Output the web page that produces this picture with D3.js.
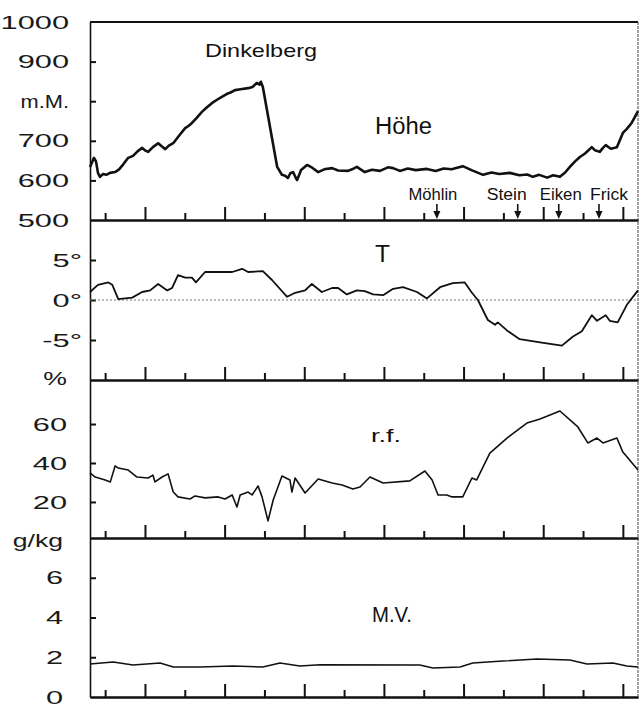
<!DOCTYPE html>
<html>
<head>
<meta charset="utf-8">
<script src="https://cdn.jsdelivr.net/npm/d3@7"></script>
<style>
  body { margin: 0; background: #fff; }
  svg { display: block; font-family: "Liberation Sans", Arial, sans-serif; }
</style>
</head>
<body>
<svg width="641" height="707"></svg>
<script>
// profile position (tick units along the route) and measured values
const hoehe = [[-0.38,634],[-0.33,645],[-0.28,657],[-0.23,648],[-0.18,619],[-0.13,609],[-0.05,616],[0.03,614],[0.12,619],[0.25,621],[0.35,628],[0.45,640],[0.58,657],[0.7,662],[0.82,674],[0.93,682],[1.0,676],[1.08,672],[1.2,684],[1.33,694],[1.42,686],[1.51,679],[1.6,688],[1.71,694],[1.85,712],[2.01,732],[2.1,738],[2.18,745],[2.3,758],[2.43,773],[2.55,784],[2.68,795],[2.8,803],[2.93,811],[3.05,818],[3.15,822],[3.26,828],[3.4,830],[3.59,833],[3.7,836],[3.81,846],[3.88,842],[3.91,849],[3.96,836],[4.32,634],[4.44,614],[4.52,612],[4.59,606],[4.65,618],[4.72,621],[4.78,608],[4.82,601],[4.92,626],[5.07,639],[5.2,632],[5.35,621],[5.5,628],[5.7,631],[5.85,625],[6.1,624],[6.2,628],[6.32,634],[6.52,621],[6.7,627],[6.9,624],[7.1,633],[7.23,631],[7.4,624],[7.6,630],[7.8,626],[8.08,629],[8.3,624],[8.5,630],[8.7,628],[8.98,636],[9.2,626],[9.49,614],[9.7,620],[9.9,616],[10.16,619],[10.4,613],[10.6,615],[10.74,609],[10.9,614],[11.1,607],[11.25,613],[11.42,609],[11.55,620],[11.67,634],[11.8,648],[11.92,659],[12.05,668],[12.22,684],[12.3,676],[12.42,672],[12.5,682],[12.57,689],[12.7,680],[12.85,684],[13.0,720],[13.1,730],[13.22,745],[13.3,760],[13.38,775]];

const temp = [[-0.38,1.0],[-0.18,1.9],[0.08,2.2],[0.18,1.9],[0.33,0.1],[0.68,0.3],[0.93,1.0],[1.13,1.2],[1.33,2.0],[1.56,1.2],[1.68,1.5],[1.83,3.1],[2.01,2.8],[2.18,2.8],[2.28,2.2],[2.51,3.5],[2.84,3.5],[3.19,3.5],[3.44,3.9],[3.59,3.5],[3.96,3.6],[4.19,2.5],[4.57,0.4],[4.77,0.9],[5.02,1.2],[5.19,2.0],[5.44,1.0],[5.7,1.5],[5.85,1.5],[6.07,0.7],[6.32,1.2],[6.52,1.1],[6.73,0.7],[6.98,0.6],[7.23,1.4],[7.48,1.6],[7.83,1.0],[8.08,0.2],[8.41,1.6],[8.73,2.1],[9.03,2.2],[9.21,0.9],[9.36,0.0],[9.61,-2.5],[9.79,-3.1],[9.86,-2.8],[10.09,-3.8],[10.41,-4.9],[10.92,-5.3],[11.47,-5.7],[11.74,-4.6],[11.97,-3.9],[12.22,-1.9],[12.35,-2.6],[12.57,-1.9],[12.67,-2.6],[12.87,-2.8],[13.1,-0.6],[13.38,1.2]];

const rf = [[-0.38,34.9],[-0.25,32.8],[0.0,31.3],[0.13,30.3],[0.25,38.5],[0.33,37.4],[0.58,36.4],[0.8,32.8],[1.08,32.3],[1.2,33.8],[1.25,30.3],[1.43,32.8],[1.58,34.4],[1.71,25.1],[1.83,22.6],[2.13,21.5],[2.26,23.1],[2.51,22.1],[2.84,22.6],[3.01,21.5],[3.19,23.6],[3.31,17.4],[3.39,23.6],[3.59,25.1],[3.69,23.6],[3.84,28.2],[3.94,22.6],[4.09,10.3],[4.22,21.0],[4.44,33.3],[4.64,31.3],[4.69,25.1],[4.77,32.3],[5.02,24.6],[5.35,31.8],[5.7,29.7],[5.95,28.7],[6.22,26.7],[6.4,27.7],[6.65,32.8],[6.98,29.7],[7.65,30.8],[8.03,35.9],[8.21,31.3],[8.36,23.6],[8.58,23.6],[8.71,22.6],[8.98,22.6],[9.21,32.3],[9.33,31.3],[9.66,45.1],[10.09,52.8],[10.59,60.5],[10.92,62.6],[11.42,66.7],[11.87,58.5],[12.12,50.3],[12.35,52.8],[12.5,50.3],[12.85,52.8],[13.0,45.6],[13.38,36.4]];

const mv = [[-0.38,1.66],[0.2,1.76],[0.7,1.61],[1.38,1.71],[1.71,1.51],[2.38,1.51],[3.21,1.56],[3.96,1.51],[4.39,1.71],[4.89,1.56],[5.4,1.62],[7.9,1.61],[8.23,1.46],[8.91,1.51],[9.23,1.71],[9.99,1.81],[10.84,1.91],[11.67,1.86],[12.1,1.66],[12.75,1.71],[13.1,1.56],[13.38,1.51]];

const routeTicks = [0,1,2,3,4,5,6,7,8,9,10,11,12,13];

const places = ["Möhlin", "Stein", "Eiken", "Frick"];
const placeKm = [8.33, 10.36, 11.39, 12.40];

const hoeheTicks = [900, 800, 700, 600];
const hoeheLabelVals = [1000, 900, 800, 700, 600, 500];
const hoeheLabels = ["1000", "900", "m.M.", "700", "600", "500"];
const tempTicks = [5, 0, -5];
const tempLabelVals = [5, 0, -5];
const tempLabels = ["5°", "0°", "-5°"];
const rfTicks = [60, 40, 20];
const rfLabelVals = [83.5, 60, 40, 20];
const rfLabels = ["%", "60", "40", "20"];
const mvTicks = [6, 4, 2];
const mvLabelVals = [7.9, 6, 4, 2, 0];
const mvLabels = ["g/kg", "6", "4", "2", "0"];

const svg = d3.select("svg");
const left = 90, right = 638;
const ink = "#111";

const x = d3.scaleLinear().domain([-0.38, 13.38]).range([left, right]);

const panels = [
  { data: hoehe, domain: [500, 1000], top: 22, bottom: 220, ticks: hoeheTicks, lv: hoeheLabelVals, lt: hoeheLabels, labelEnd: 69, sw: 2.6,
    title: "Höhe", tx: 375, ty: 134, tsize: 23, tlen: 57 },
  { data: temp, domain: [-10, 10], top: 220, bottom: 380, ticks: tempTicks, lv: tempLabelVals, lt: tempLabels, labelEnd: 82, sw: 1.8,
    title: "T", tx: 375, ty: 262, tsize: 24, tlen: 15 },
  { data: rf, domain: [1.5, 82.6], top: 380, bottom: 538, ticks: rfTicks, lv: rfLabelVals, lt: rfLabels, labelEnd: 67, sw: 1.6,
    title: "r.f.", tx: 371, ty: 442, tsize: 19, tlen: 30 },
  { data: mv, domain: [0, 8], top: 538, bottom: 697, ticks: mvTicks, lv: mvLabelVals, lt: mvLabels, labelEnd: 63, sw: 1.4,
    title: "M.V.", tx: 372, ty: 622, tsize: 22, tlen: 40 }
];

panels.forEach((p) => {
  const y = d3.scaleLinear().domain(p.domain).range([p.bottom, p.top]);
  p.y = y;

  // route ticks on bottom edge, pointing up, alternating long / short
  const shortAxis = d3.axisBottom(x).tickValues(routeTicks.filter((d) => d % 2 === 0))
    .tickSizeInner(-7).tickSizeOuter(0).tickFormat("");
  const longAxis = d3.axisBottom(x).tickValues(routeTicks.filter((d) => d % 2 === 1))
    .tickSizeInner(-13).tickSizeOuter(0).tickFormat("");
  [shortAxis, longAxis].forEach((ax) => {
    const g = svg.append("g").attr("transform", `translate(0,${p.bottom})`).call(ax);
    g.select(".domain").attr("stroke", ink).attr("stroke-width", 2);
    g.selectAll(".tick line").attr("stroke", ink).attr("stroke-width", 2);
  });

  // left axis: small inward ticks
  const yAxis = d3.axisLeft(y).tickValues(p.ticks).tickSizeInner(-6).tickSizeOuter(0).tickFormat("");
  const ga = svg.append("g").attr("transform", `translate(${left},0)`).call(yAxis);
  ga.select(".domain").attr("stroke", ink).attr("stroke-width", 1.6);
  ga.selectAll(".tick line").attr("stroke", ink).attr("stroke-width", 2);

  // axis labels, stretched horizontally for the wide lettering of the original
  svg.append("g")
    .selectAll("text")
    .data(d3.zip(p.lv, p.lt))
    .join("text")
    .attr("transform", (d) => {
      const f = /^[-\d°]+$/.test(d[1]) ? 1.62 : (d[1] === "m.M." ? 1.15 : 1.4);
      return `translate(${p.labelEnd},${y(d[0])}) scale(${f},1)`;
    })
    .attr("dy", "0.35em")
    .attr("text-anchor", "end")
    .attr("font-size", 19)
    .attr("fill", "#1a1a1a")
    .text((d) => d[1]);

  // panel title
  svg.append("text")
    .attr("x", p.tx).attr("y", p.ty)
    .attr("font-size", p.tsize)
    .attr("textLength", p.tlen).attr("lengthAdjust", "spacingAndGlyphs")
    .attr("fill", ink)
    .text(p.title);
});

// zero line in the temperature panel
const tY = panels[1].y;
svg.append("line")
  .attr("x1", left).attr("x2", right)
  .attr("y1", tY(0)).attr("y2", tY(0))
  .attr("stroke", "#777").attr("stroke-width", 1).attr("stroke-dasharray", "2,2");

// top and right frame
svg.append("line").attr("x1", left).attr("x2", right).attr("y1", 22).attr("y2", 22)
  .attr("stroke", ink).attr("stroke-width", 2);
svg.append("line").attr("x1", right).attr("x2", right).attr("y1", 22).attr("y2", 697)
  .attr("stroke", "#444").attr("stroke-width", 1).attr("stroke-dasharray", "3,1");

// curves
panels.forEach((p) => {
  const line = d3.line().x((d) => x(d[0])).y((d) => p.y(d[1]));
  svg.append("path")
    .datum(p.data)
    .attr("fill", "none")
    .attr("stroke", ink)
    .attr("stroke-width", p.sw)
    .attr("stroke-linejoin", "round")
    .attr("d", line);
});

// Dinkelberg label
svg.append("text")
  .attr("x", 205).attr("y", 57)
  .attr("font-size", 19)
  .attr("textLength", 112).attr("lengthAdjust", "spacingAndGlyphs")
  .attr("fill", ink)
  .text("Dinkelberg");

// place markers on the altitude panel
const placeDx = [-4, -11, 2, 10];
const placeLen = [49, 40, 42, 38];
const pg = svg.append("g")
  .selectAll("g")
  .data(d3.zip(places, placeKm))
  .join("g")
  .attr("transform", (d) => `translate(${x(d[1])},0)`);

pg.append("text")
  .attr("x", (d, i) => placeDx[i])
  .attr("y", 200)
  .attr("text-anchor", "middle")
  .attr("font-size", 16)
  .attr("textLength", (d, i) => placeLen[i]).attr("lengthAdjust", "spacingAndGlyphs")
  .attr("fill", ink)
  .text((d) => d[0]);

pg.append("line")
  .attr("y1", 204).attr("y2", 213)
  .attr("stroke", ink).attr("stroke-width", 1.6);

pg.append("path")
  .attr("d", "M-3.5,211L3.5,211L0,219Z")
  .attr("fill", ink);
</script>
</body>
</html>
